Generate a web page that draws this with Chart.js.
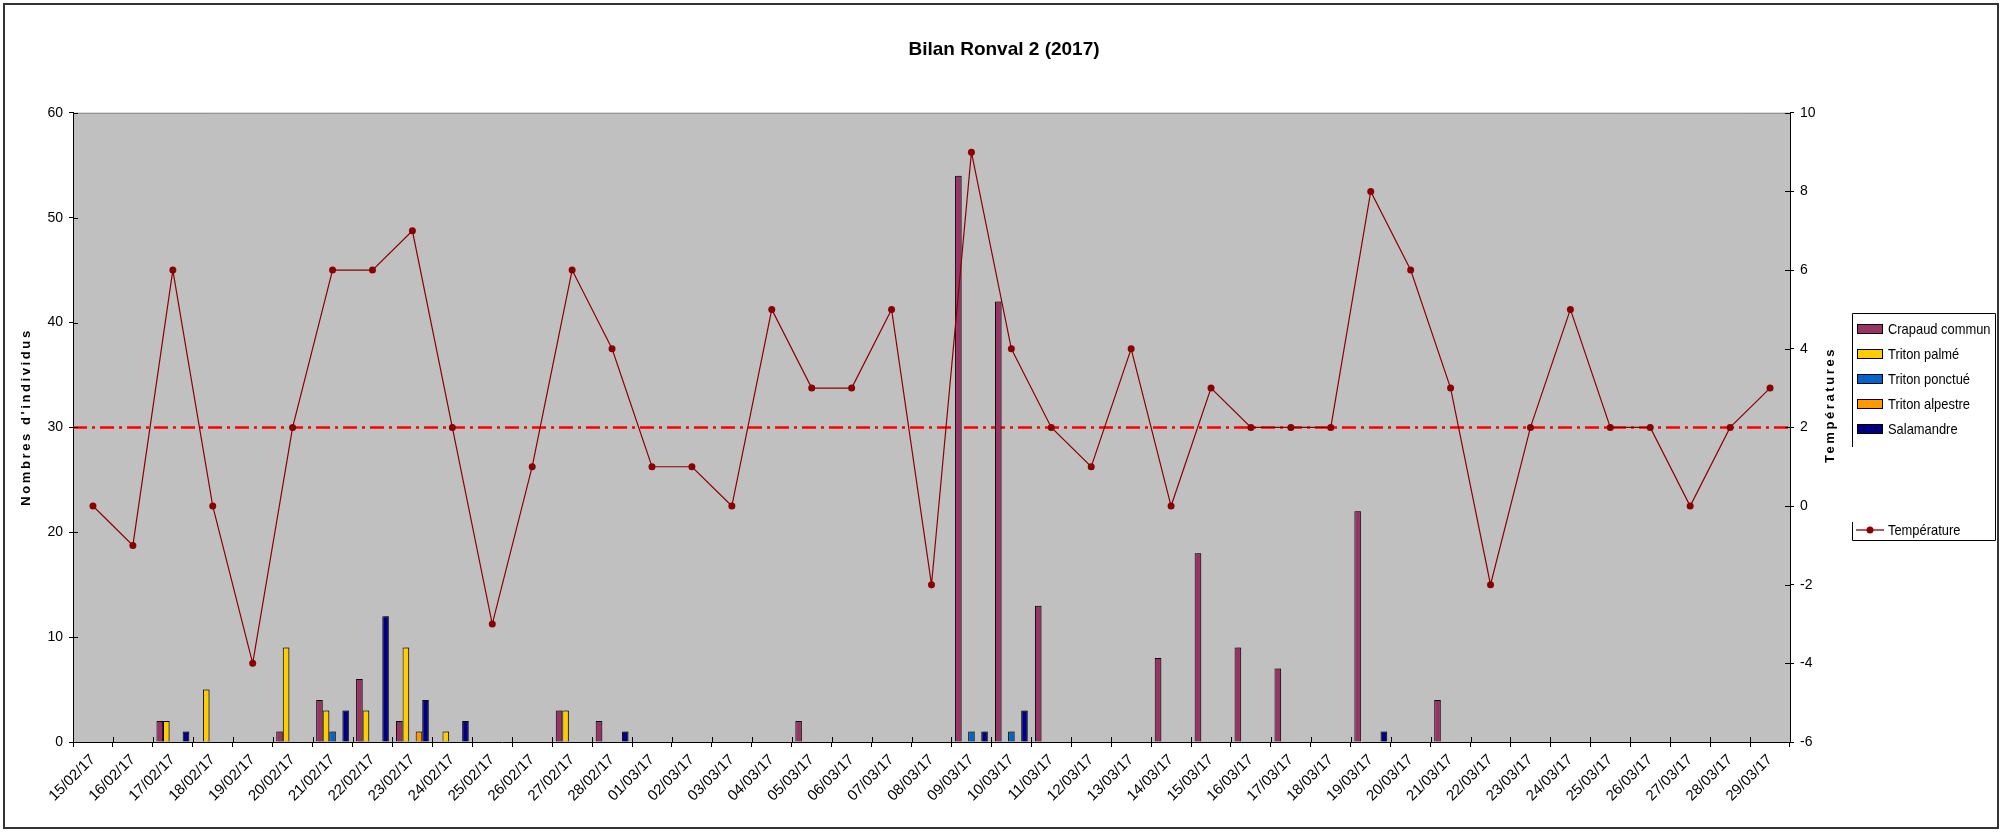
<!DOCTYPE html>
<html>
<head>
<meta charset="utf-8">
<script src="https://cdn.jsdelivr.net/npm/chart.js@4.4.1/dist/chart.umd.min.js"></script>
<style>
  html, body { margin: 0; padding: 0; background: #ffffff; }
  #wrap { position: relative; width: 2008px; height: 832px; }
  canvas { display: block; }
</style>
</head>
<body>
<div id="wrap"><canvas id="c" width="2008" height="832"></canvas></div>
<script>
// ---------- DATA ----------
const chartTitle = "Bilan Ronval 2 (2017)";
const leftAxisTitle = "Nombres d'individus";
const rightAxisTitle = "Températures";

const dates = [
  "15/02/17","16/02/17","17/02/17","18/02/17","19/02/17","20/02/17","21/02/17",
  "22/02/17","23/02/17","24/02/17","25/02/17","26/02/17","27/02/17","28/02/17",
  "01/03/17","02/03/17","03/03/17","04/03/17","05/03/17","06/03/17","07/03/17",
  "08/03/17","09/03/17","10/03/17","11/03/17","12/03/17","13/03/17","14/03/17",
  "15/03/17","16/03/17","17/03/17","18/03/17","19/03/17","20/03/17","21/03/17",
  "22/03/17","23/03/17","24/03/17","25/03/17","26/03/17","27/03/17","28/03/17",
  "29/03/17"
];

const crapaudCommun = [0,0,2,0,0,1,4,6,2,0,0,0,3,2, 0,0,0,0,2,0,0,0,54,42,13,0,0,8,18,9,7,0,22,0,4,0,0,0,0,0,0,0,0];
const tritonPalme   = [0,0,2,5,0,9,3,3,9,1,0,0,3,0, 0,0,0,0,0,0,0,0,0,0,0,0,0,0,0,0,0,0,0,0,0,0,0,0,0,0,0,0,0];
const tritonPonctue = [0,0,0,0,0,0,1,0,0,0,0,0,0,0, 0,0,0,0,0,0,0,0,1,1,0,0,0,0,0,0,0,0,0,0,0,0,0,0,0,0,0,0,0];
const tritonAlpestre= [0,0,0,0,0,0,0,0,1,0,0,0,0,0, 0,0,0,0,0,0,0,0,0,0,0,0,0,0,0,0,0,0,0,0,0,0,0,0,0,0,0,0,0];
const salamandre    = [0,0,1,0,0,0,3,12,4,2,0,0,0,1, 0,0,0,0,0,0,0,0,1,3,0,0,0,0,0,0,0,0,1,0,0,0,0,0,0,0,0,0,0];
const temperature   = [0,-1,6,0,-4,2,6,6,7,2,-3,1,6,4, 1,1,0,5,3,3,5,-2,9,4,2,1,4,0,3,2,2,2,8,6,3,-2,2,5,2,2,0,2,3];

const countTicks = { min: 0, max: 60, step: 10 };
const tempTicks  = { min: -6, max: 10, step: 2 };
const referenceCount = 30;   // red dash-dot reference line (left axis)

// ---------- STYLE ----------
const SANS = "'Liberation Sans',Arial,sans-serif";

const barSeries = [
  { label: "Crapaud commun", data: crapaudCommun, color: "#993366" },
  { label: "Triton palmé",   data: tritonPalme,   color: "#FFCC00" },
  { label: "Triton ponctué", data: tritonPonctue, color: "#0066CC" },
  { label: "Triton alpestre",data: tritonAlpestre,color: "#FF9900" },
  { label: "Salamandre",     data: salamandre,    color: "#000080" }
];

const datasets = [
  {
    type: 'line', label: "Température", data: temperature, yAxisID: 'y1',
    borderColor: '#8B0000', backgroundColor: '#8B0000', borderWidth: 1.2,
    pointRadius: 3.5, pointBackgroundColor: '#8B0000', pointBorderWidth: 0,
    tension: 0, order: 0
  }
].concat(barSeries.map(s => ({
  type: 'bar', label: s.label, data: s.data, yAxisID: 'y',
  backgroundColor: s.color, borderColor: '#000000', borderWidth: 1,
  borderSkipped: 'bottom',
  categoryPercentage: 0.82, barPercentage: 1.0, order: 1
})));

const pluginFrame = {
  id: 'frame',
  beforeDraw(chart) {
    const { ctx, chartArea: a } = chart;
    ctx.save();
    ctx.fillStyle = '#ffffff';
    ctx.fillRect(0, 0, chart.width, chart.height);
    ctx.fillStyle = '#C0C0C0';
    ctx.fillRect(a.left, a.top, a.right - a.left, a.bottom - a.top);
    ctx.strokeStyle = '#8a8a8a';
    ctx.lineWidth = 1;
    ctx.beginPath();
    ctx.moveTo(a.left, a.top + 0.5); ctx.lineTo(a.right, a.top + 0.5);
    ctx.stroke();
    ctx.restore();
  },
  beforeDatasetsDraw(chart) {
    const { ctx, chartArea: a } = chart;
    const y = chart.scales.y.getPixelForValue(referenceCount);
    ctx.save();
    ctx.strokeStyle = '#FF0000';
    ctx.lineWidth = 2.5;
    ctx.setLineDash([14, 5, 3, 5]);
    ctx.beginPath();
    ctx.moveTo(a.left, y); ctx.lineTo(a.right, y);
    ctx.stroke();
    ctx.restore();
  },
  beforeDatasetDraw(chart, args) {
    if (args.meta.type === 'bar') {
      const ctx = chart.ctx;
      ctx.save();
      ctx.shadowColor = 'rgba(60,60,60,0.55)';
      ctx.shadowOffsetX = 2;
      ctx.shadowOffsetY = 0;
      ctx.shadowBlur = 0;
    }
  },
  afterDatasetDraw(chart, args) {
    if (args.meta.type === 'bar') chart.ctx.restore();
  },
  afterDraw(chart) {
    const { ctx, chartArea: a } = chart;
    const xs = chart.scales.x, ys = chart.scales.y, y1 = chart.scales.y1;
    ctx.save();
    // inner halves of tick marks (crossing ticks)
    ctx.strokeStyle = '#000';
    ctx.lineWidth = 1;
    ctx.beginPath();
    const step = xs.getPixelForValue(1) - xs.getPixelForValue(0);
    for (let i = 0; i <= dates.length; i++) {
      const x = Math.round(xs.getPixelForValue(0) - step / 2 + i * step) + 0.5;
      ctx.moveTo(x, a.bottom); ctx.lineTo(x, a.bottom - 5);
    }
    ys.ticks.forEach(t => {
      const y = Math.round(ys.getPixelForValue(t.value)) + 0.5;
      ctx.moveTo(a.left, y); ctx.lineTo(a.left + 5, y);
    });
    y1.ticks.forEach(t => {
      const y = Math.round(y1.getPixelForValue(t.value)) + 0.5;
      ctx.moveTo(a.right, y); ctx.lineTo(a.right - 5, y);
    });
    ctx.stroke();

    // axis titles
    ctx.fillStyle = '#000';
    ctx.font = "bold 13px " + SANS;
    ctx.textAlign = 'center';
    ctx.textBaseline = 'middle';
    try { ctx.letterSpacing = '2.6px'; } catch (e) {}
    ctx.save();
    ctx.translate(26, 417); ctx.rotate(-Math.PI / 2);
    ctx.fillText(leftAxisTitle, 0, 0);
    ctx.restore();
    ctx.save();
    ctx.translate(1830, 405); ctx.rotate(-Math.PI / 2);
    ctx.fillText(rightAxisTitle, 0, 0);
    ctx.restore();
    try { ctx.letterSpacing = '0px'; } catch (e) {}

    // legend
    const lx = 1852, ly = 313, lw = 143, lh = 227;
    ctx.strokeStyle = '#000';
    ctx.lineWidth = 1;
    ctx.beginPath();
    ctx.moveTo(lx + 0.5, ly + 134); ctx.lineTo(lx + 0.5, ly + 0.5);
    ctx.lineTo(lx + lw + 0.5, ly + 0.5); ctx.lineTo(lx + lw + 0.5, ly + lh + 0.5);
    ctx.lineTo(lx + 0.5, ly + lh + 0.5); ctx.lineTo(lx + 0.5, ly + 209);
    ctx.stroke();
    ctx.font = "15px " + SANS;
    ctx.textAlign = 'left';
    ctx.textBaseline = 'middle';
    const drawNarrow = (txt, x, y) => {
      ctx.save(); ctx.translate(x, y); ctx.scale(0.86, 1); ctx.fillText(txt, 0, 0); ctx.restore();
    };
    const bars = chart.data.datasets.filter(d => d.type === 'bar');
    bars.forEach((d, i) => {
      const yy = 329 + i * 25;
      ctx.fillStyle = d.backgroundColor;
      ctx.fillRect(1857, yy - 5, 26, 10);
      ctx.strokeStyle = '#000';
      ctx.strokeRect(1857.5, yy - 4.5, 25, 9);
      ctx.fillStyle = '#000';
      drawNarrow(d.label, 1888, yy + 1);
    });
    const line = chart.data.datasets.find(d => d.type === 'line');
    const ty = 530;
    ctx.strokeStyle = line.borderColor;
    ctx.lineWidth = 1.3;
    ctx.beginPath(); ctx.moveTo(1856, ty); ctx.lineTo(1884, ty); ctx.stroke();
    ctx.fillStyle = line.borderColor;
    ctx.beginPath(); ctx.arc(1870, ty, 3.5, 0, Math.PI * 2); ctx.fill();
    ctx.fillStyle = '#000';
    drawNarrow(line.label, 1888, ty + 1);

    // outer chart border
    ctx.strokeStyle = '#333';
    ctx.lineWidth = 2;
    ctx.strokeRect(4, 4, 1994, 824);
    ctx.restore();
  }
};

new Chart(document.getElementById('c'), {
  data: { labels: dates, datasets },
  plugins: [pluginFrame],
  options: {
    responsive: false,
    animation: false,
    layout: { padding: { left: 0, right: 0, top: 0, bottom: 0 } },
    plugins: {
      legend: { display: false },
      tooltip: { enabled: false },
      title: {
        display: true, text: chartTitle, color: '#000',
        font: { family: SANS, size: 19, weight: 'bold' },
        padding: { top: 38, bottom: 52 }
      }
    },
    scales: {
      x: {
        type: 'category',
        offset: true,
        grid: { display: true, drawOnChartArea: false, offset: true, drawTicks: true, tickLength: 5, color: '#000' },
        border: { display: true, color: '#000', width: 1 },
        ticks: {
          autoSkip: false, maxRotation: 45, minRotation: 45, color: '#000',
          font: { family: SANS, size: 15 }, padding: 4
        },
        afterFit(s) { s.height = 90; }
      },
      y: {
        position: 'left', min: countTicks.min, max: countTicks.max,
        grid: { drawOnChartArea: false, tickLength: 4, color: '#000' },
        border: { display: true, color: '#000', width: 1 },
        ticks: { stepSize: countTicks.step, color: '#000', padding: 6, font: { family: SANS, size: 14 } },
        afterFit(s) { s.width = 73; }
      },
      y1: {
        position: 'right', min: tempTicks.min, max: tempTicks.max,
        grid: { drawOnChartArea: false, tickLength: 4, color: '#000' },
        border: { display: true, color: '#000', width: 1 },
        ticks: { stepSize: tempTicks.step, color: '#000', padding: 6, font: { family: SANS, size: 14 } },
        afterFit(s) { s.width = 218; }
      }
    }
  }
});
</script>
</body>
</html>
